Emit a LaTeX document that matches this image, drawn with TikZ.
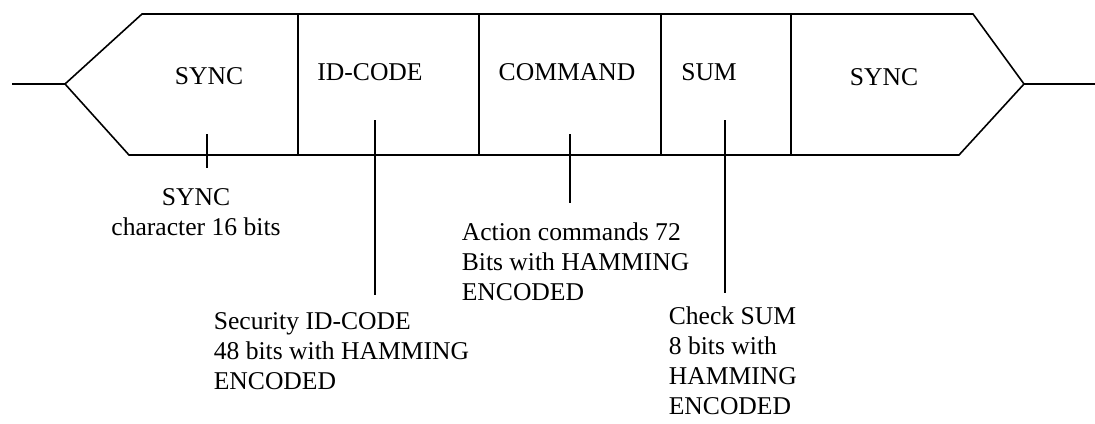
\documentclass[tikz,border=0pt]{standalone}
\usepackage{fontspec}
\setmainfont{Liberation Serif}
\usepackage{tikz}

\begin{document}
\begin{tikzpicture}[x=0.5pt,y=-0.5pt,line width=0.8pt,
    field/.style={inner sep=0pt,anchor=base},
    note/.style={inner sep=0pt,anchor=north west,align=left},
    font=\fontsize{12.8}{15}\selectfont]
  \useasboundingbox (0,0) rectangle (1095,423);

  % frame of the telegram
  \draw (12,84) -- (65,84) -- (142,14) -- (973,14) -- (1024,84) -- (1095,84);
  \draw (65,84) -- (129,155) -- (959,155) -- (1024,84);
  \draw (298,14) -- (298,155);
  \draw (479,14) -- (479,155);
  \draw (661,14) -- (661,155);
  \draw (791,14) -- (791,155);

  \node[field] (sync1) at (209,84)  {SYNC};
  \node[field] (idcode) at (370,80) {ID-CODE};
  \node[field] (cmd) at (567,80)    {COMMAND};
  \node[field] (sum) at (709,80)    {SUM};
  \node[field] (sync2) at (884,85)  {SYNC};

  % descriptions
  \node[inner sep=0pt,anchor=north,align=center] (syncnote) at (196,188)
    {SYNC\\character 16 bits};
  \node[note] (idnote) at (213,312)
    {Security ID-CODE\\48 bits with HAMMING\\ENCODED};
  \node[note] (cmdnote) at (461,222)
    {Action commands 72\\Bits with HAMMING\\ENCODED};
  \node[note] (sumnote) at (668,306)
    {Check SUM\\8 bits with\\HAMMING\\ENCODED};

  \coordinate (s1) at (207,134);  \coordinate (s2) at (207,168);
  \coordinate (i1) at (375,120);  \coordinate (i2) at (375,295);
  \coordinate (c1) at (570,134);  \coordinate (c2) at (570,203);
  \coordinate (m1) at (725,120);  \coordinate (m2) at (725,293);
  \draw (s1) -- (s2);
  \draw (i1) -- (i2);
  \draw (c1) -- (c2);
  \draw (m1) -- (m2);
\end{tikzpicture}
\end{document}
